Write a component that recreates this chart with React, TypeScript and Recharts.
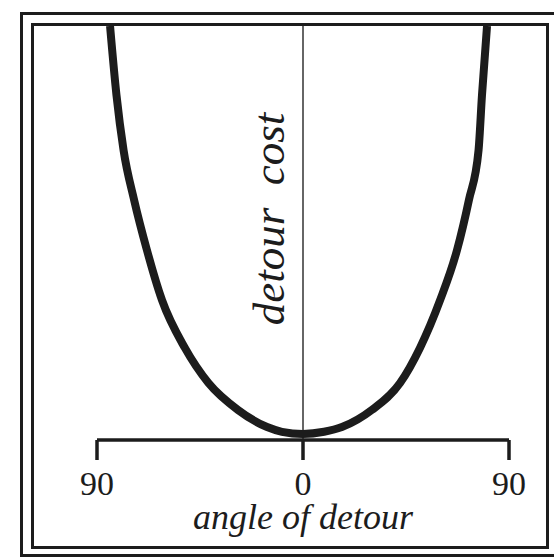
import React from 'react';
import { LineChart, Line, XAxis, YAxis, ReferenceLine, Label } from 'recharts';

// angle of detour (degrees, left negative) and detour cost (relative units)
const angles = [-84.3, -81.5, -78.4, -73.8, -68.2, -61.6, -51.6, -41.3, -28.4, -15.7, -9.2, 0, 9.2, 17.0, 30.1, 42.4, 51.1, 59.9, 67.3, 72.5, 76.7, 78.2, 80.4];
const costs = [100, 83.1, 69.6, 57.4, 45.1, 32.8, 21.1, 12.5, 5.9, 1.7, 0.54, 0, 0.54, 1.7, 5.9, 12.5, 21.1, 32.8, 45.1, 57.4, 69.6, 83.1, 100];
const tickValues = [-90, 0, 90];
const xTitle = 'angle of detour';
const yTitle = 'detour  cost';

const data = angles.map((a, i) => ({ angle: a, cost: costs[i] }));

const INK = '#1c1c1c';
const FONT = '"Liberation Serif", "DejaVu Serif", serif';

const YTitle = (props: any) => {
  const vb = props.viewBox || {};
  const x = (vb.x ?? 303) - 19;
  const y = (vb.y ?? 26) + (vb.height ?? 414) / 2 - 14;
  return (
    <text
      x={x}
      y={y}
      transform={`rotate(-90, ${x}, ${y})`}
      textAnchor="middle"
      fontFamily={FONT}
      fontStyle="italic"
      fontSize={45}
      fill={INK}
      style={{ whiteSpace: 'pre' }}
    >
      {yTitle}
    </text>
  );
};

export default function App() {
  return (
    <div style={{ position: 'absolute', left: 0, top: 0, width: 554, height: 558, overflow: 'hidden', background: '#fff' }}>
      <div style={{ position: 'absolute', left: 20, top: 12, width: 540, height: 545, border: `3px solid ${INK}`, boxSizing: 'border-box' }} />
      <div style={{ position: 'absolute', left: 31, top: 23, width: 518, height: 526, border: `3px solid ${INK}`, boxSizing: 'border-box' }} />
      <div style={{ position: 'absolute', left: 0, top: 0 }}>
        <LineChart width={554} height={558} data={data} margin={{ top: 26, right: 45, bottom: 0, left: 97 }}>
          <XAxis
            dataKey="angle"
            type="number"
            domain={[-90, 90]}
            ticks={tickValues}
            tickFormatter={(v: number) => String(Math.abs(v))}
            height={118}
            axisLine={{ stroke: INK, strokeWidth: 3.5 }}
            tickLine={{ stroke: INK, strokeWidth: 3.5 }}
            tickSize={20}
            tickMargin={11}
            tick={{ fill: INK, fontFamily: FONT, fontSize: 34 }}
            interval={0}
          >
            <Label value={xTitle} position="insideBottom" offset={29} fill={INK} fontFamily={FONT} fontStyle="italic" fontSize={36} />
          </XAxis>
          <YAxis hide type="number" domain={[-1.47, 100]} />
          <ReferenceLine x={0} stroke="#333" strokeWidth={1.5} label={YTitle} />
          <Line
            type="monotone"
            dataKey="cost"
            stroke={INK}
            strokeWidth={8}
            dot={false}
            activeDot={false}
            isAnimationActive={false}
          />
        </LineChart>
      </div>
    </div>
  );
}
